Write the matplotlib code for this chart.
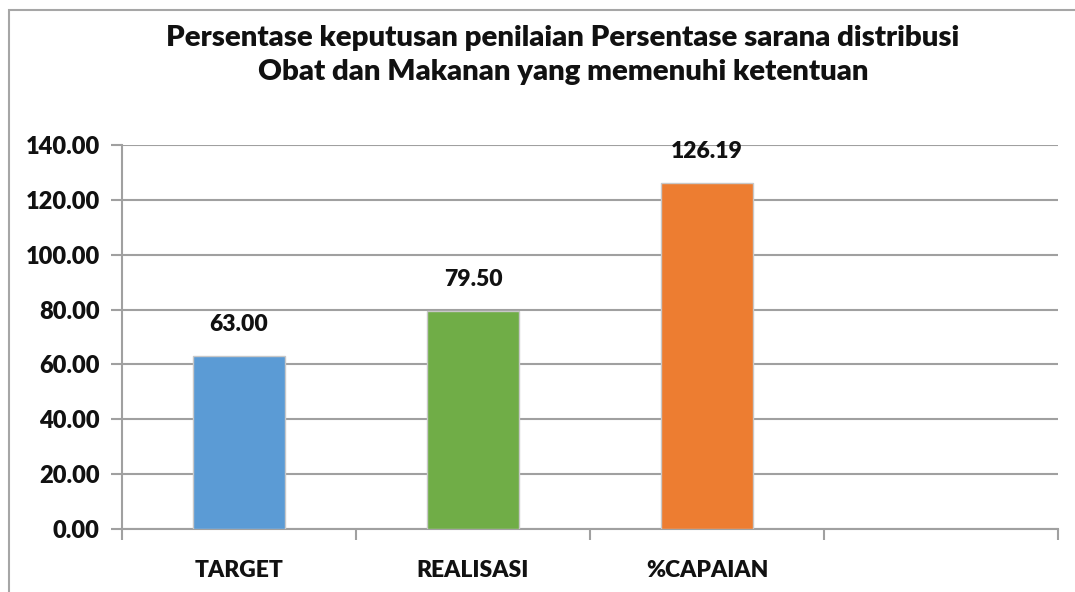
import matplotlib
matplotlib.use("Agg")
import matplotlib.pyplot as plt
from matplotlib.patches import Rectangle
from matplotlib.ticker import FixedLocator

categories = ["TARGET", "REALISASI", "%CAPAIAN", ""]
values = [63.00, 79.50, 126.19, None]
colors = ["#5B9BD5", "#70AD47", "#ED7D31", "#FFFFFF"]
title = "Persentase keputusan penilaian Persentase sarana distribusi\nObat dan Makanan yang memenuhi ketentuan"

plt.rcParams['font.family'] = ['Lato', 'DejaVu Sans']
W = "heavy"

fig = plt.figure(figsize=(10.75, 5.92), dpi=100)
fig.patch.set_facecolor("white")
ax = fig.add_axes([122/1075, 63/592, (1058-122)/1075, (529-145)/592])

grid_c = "#A0A0A0"
x = list(range(len(categories)))
for i, (v, c) in enumerate(zip(values, colors)):
    if v is None:
        continue
    ax.bar(i, v, width=0.395, color=c, edgecolor="#C8C8C8", linewidth=1.0, zorder=3)
    ax.annotate(f"{v:.2f}", (i, v), xytext=(0, 15), textcoords="offset points",
                ha="center", va="bottom", fontsize=16.5, fontweight=W, color="#111111")

ax.set_xlim(-0.5, len(categories) - 0.5)
ax.set_ylim(0, 140)
ax.set_yticks(range(0, 141, 20))
ax.set_yticklabels([f"{t:.2f}" for t in range(0, 141, 20)])
ax.set_xticks(x)
ax.set_xticklabels(categories)
ax.xaxis.set_minor_locator(FixedLocator([i + 0.5 for i in range(-1, len(categories))]))
ax.tick_params(axis="x", which="major", length=0, pad=22, labelsize=16.5)
ax.tick_params(axis="x", which="minor", length=8, width=1.5, color=grid_c, direction="out")
ax.tick_params(axis="y", length=8, width=1.5, color=grid_c, pad=8, labelsize=17)
for lab in ax.get_xticklabels() + ax.get_yticklabels():
    lab.set_fontweight(W)
    lab.set_color("#111111")

ax.grid(axis="y", color=grid_c, linewidth=1.5, zorder=0)
ax.set_axisbelow(True)
for s in ["top", "right"]:
    ax.spines[s].set_visible(False)
for s in ["left", "bottom"]:
    ax.spines[s].set_color(grid_c)
    ax.spines[s].set_linewidth(1.5)

fig.text(563/1075, 1 - 55/592, title, ha="center", va="center", fontsize=21.2,
         fontweight=W, color="#111111", linespacing=1.35)

fig.patches.append(Rectangle((9/1075, -0.1), 1.2, 1.1 - 10/592, transform=fig.transFigure,
                             fill=False, edgecolor="#A6A6A6", linewidth=1.5, clip_on=False))

fig.savefig("out.png", dpi=100, facecolor="white")
